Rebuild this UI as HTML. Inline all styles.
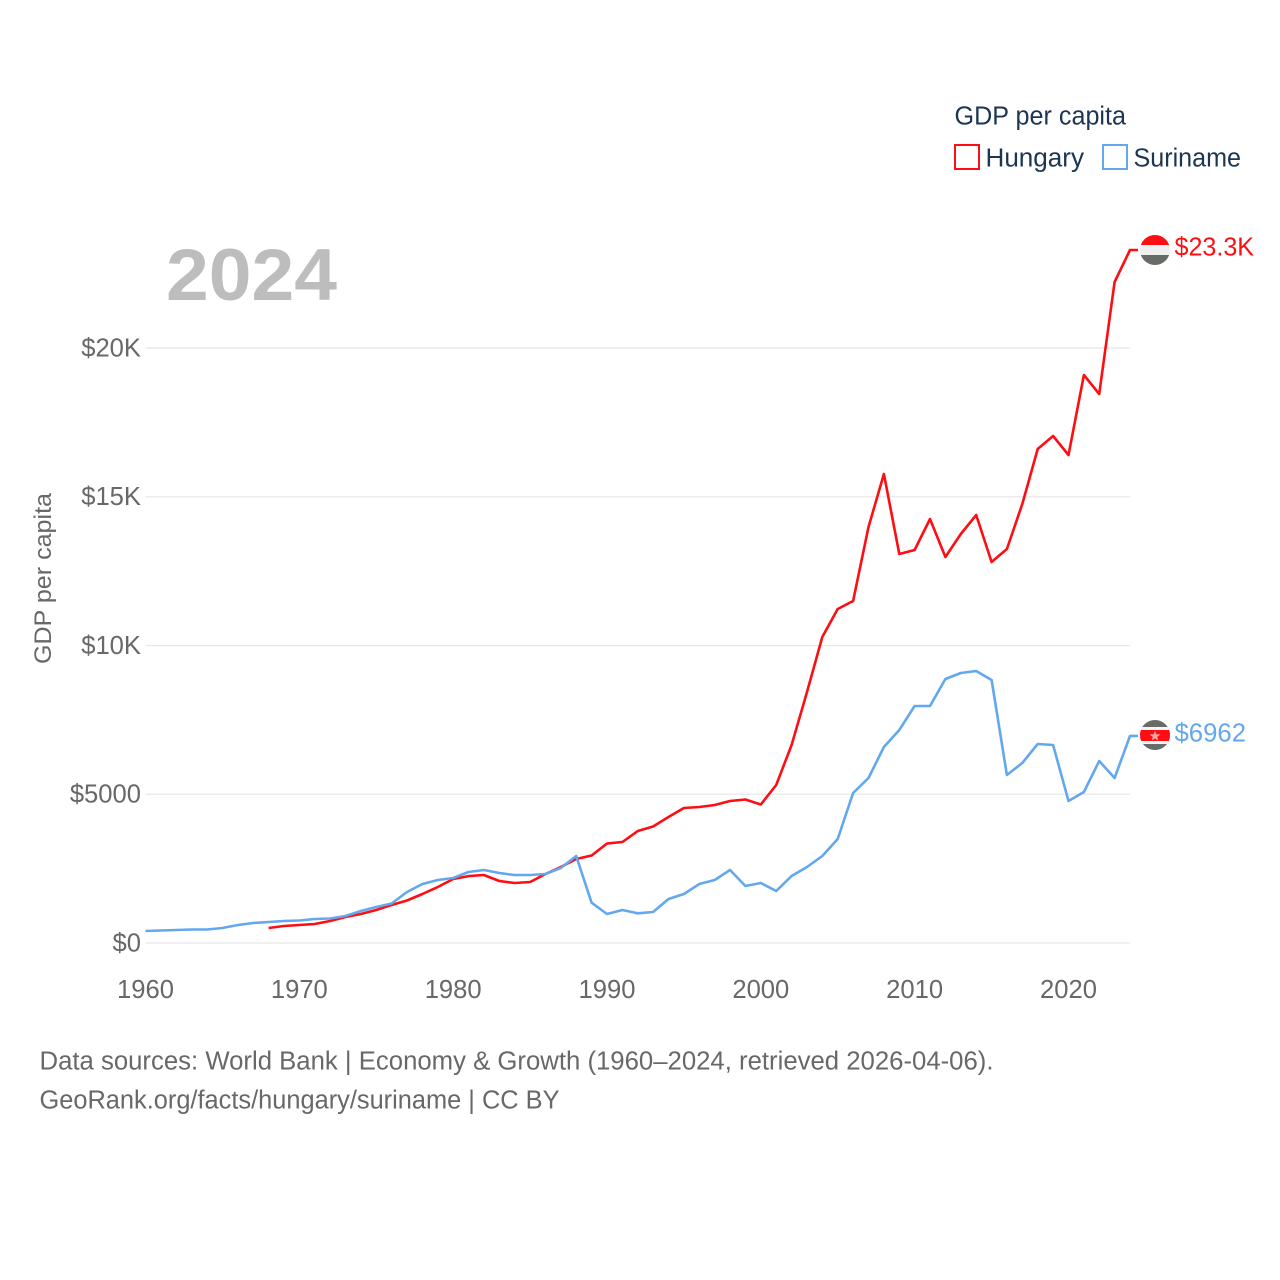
<!DOCTYPE html>
<html lang="en">
<head>
<meta charset="utf-8">
<title>GDP per capita: Hungary and Suriname</title>
<style>
  html, body { margin: 0; padding: 0; background: #fff; }
  svg { display: block; }
  text { font-family: "Liberation Sans", sans-serif; }
</style>
</head>
<body>
<svg id="chart" xmlns="http://www.w3.org/2000/svg" width="1280" height="1280" viewBox="0 0 1280 1280">
  <defs>
    <clipPath id="clip-hu"><circle cx="1155" cy="250" r="15"/></clipPath>
    <clipPath id="clip-sr"><circle cx="1155" cy="735" r="15"/></clipPath>
  </defs>
  <rect x="0" y="0" width="1280" height="1280" fill="#ffffff"/>

  <text x="954.5" y="124.5" font-size="25.5" fill="#1b3553" textLength="171.5" lengthAdjust="spacingAndGlyphs">GDP per capita</text>
  <g>
    <rect x="955" y="145" width="24" height="24" fill="none" stroke="#ff0d12" stroke-width="2"/>
    <text x="985.5" y="166.5" font-size="25.5" fill="#1b3553" textLength="98.5" lengthAdjust="spacingAndGlyphs">Hungary</text>
  </g>
  <g>
    <rect x="1103" y="145" width="24" height="24" fill="none" stroke="#63a8ef" stroke-width="2"/>
    <text x="1133.5" y="166.5" font-size="25.5" fill="#1b3553" textLength="107.5" lengthAdjust="spacingAndGlyphs">Suriname</text>
  </g>

  <text x="166" y="300" font-size="73" font-weight="700" fill="#bdbdbd" textLength="171" lengthAdjust="spacingAndGlyphs">2024</text>

  <text transform="translate(51,664) rotate(-90)" font-size="24.5" fill="#666966" textLength="171" lengthAdjust="spacingAndGlyphs">GDP per capita</text>

  <g id="grid"></g>
  <g id="y-ticks"></g>
  <g id="x-ticks"></g>
  <g id="series"></g>

  <g clip-path="url(#clip-hu)">
    <rect x="1140" y="235" width="30" height="10" fill="#ff0d12"/>
    <rect x="1140" y="245" width="30" height="10" fill="#f0f0f0"/>
    <rect x="1140" y="255" width="30" height="10" fill="#686c68"/>
  </g>
  <text id="label-hungary" x="1174.5" y="255.5" font-size="25.5" fill="#ff0d12" textLength="79.5" lengthAdjust="spacingAndGlyphs">$23.3K</text>

  <g clip-path="url(#clip-sr)">
    <rect x="1140" y="720" width="30" height="30" fill="#686c68"/>
    <rect x="1140" y="727" width="30" height="17" fill="#f4f4f4"/>
    <rect x="1140" y="730" width="30" height="11" fill="#ff0d12"/>
    <polygon points="1155,730.5 1156.4,734.4 1160.5,734.4 1157.2,736.9 1158.4,740.8 1155,738.4 1151.6,740.8 1152.8,736.9 1149.5,734.4 1153.6,734.4" fill="#f7a9a9"/>
  </g>
  <text id="label-suriname" x="1174.5" y="741.5" font-size="25.5" fill="#63a8ef" textLength="71.5" lengthAdjust="spacingAndGlyphs">$6962</text>

  <text x="39.5" y="1069.5" font-size="25.5" fill="#666966" textLength="954" lengthAdjust="spacingAndGlyphs">Data sources: World Bank | Economy &amp; Growth (1960–2024, retrieved 2026-04-06).</text>
  <text x="39.5" y="1108.5" font-size="25.5" fill="#666966" textLength="520" lengthAdjust="spacingAndGlyphs">GeoRank.org/facts/hungary/suriname | CC BY</text>
</svg>
<script>
const yTickValues = [0, 5000, 10000, 15000, 20000];
const yTickLabels = ["$0", "$5000", "$10K", "$15K", "$20K"];
const xTickValues = [1960, 1970, 1980, 1990, 2000, 2010, 2020];
const xTickLabels = ["1960", "1970", "1980", "1990", "2000", "2010", "2020"];
const hungaryStartYear = 1968;
const hungaryValues = [504, 571, 605, 640, 740, 874, 975, 1109, 1277, 1430, 1647, 1882, 2151, 2250, 2285, 2084, 2017, 2050, 2320, 2555, 2824, 2940, 3345, 3395, 3765, 3915, 4235, 4538, 4571, 4640, 4773, 4824, 4655, 5310, 6655, 8437, 10285, 11227, 11496, 13983, 15765, 13075, 13210, 14252, 12975, 13748, 14387, 12807, 13244, 14756, 16605, 17042, 16403, 19092, 18454, 22218, 23294];
const surinameStartYear = 1960;
const surinameValues = [403, 420, 437, 454, 454, 504, 605, 672, 706, 740, 756, 807, 824, 908, 1076, 1210, 1328, 1714, 1983, 2118, 2185, 2387, 2454, 2353, 2286, 2286, 2320, 2521, 2924, 1355, 975, 1109, 998, 1042, 1479, 1647, 1983, 2118, 2454, 1916, 2017, 1748, 2252, 2555, 2924, 3496, 5042, 5546, 6588, 7160, 7966, 7966, 8874, 9076, 9143, 8840, 5647, 6050, 6689, 6655, 4773, 5076, 6118, 5546, 6962];

const NS = "http://www.w3.org/2000/svg";
function xScale(year) { return 145.5 + (year - 1960) * (1130 - 145.5) / 64; }
function yScale(value) { return 943 - value * (943 - 348) / 20000; }

function makeText(parent, x, y, anchor, content) {
  const t = document.createElementNS(NS, "text");
  t.setAttribute("x", x);
  t.setAttribute("y", y);
  t.setAttribute("text-anchor", anchor);
  t.setAttribute("font-size", "25.6");
  t.setAttribute("fill", "#666966");
  t.textContent = content;
  parent.appendChild(t);
  return t;
}

const gridGroup = document.getElementById("grid");
const yTickGroup = document.getElementById("y-ticks");
yTickValues.forEach(function (v, i) {
  const line = document.createElementNS(NS, "line");
  line.setAttribute("x1", xScale(1960));
  line.setAttribute("x2", xScale(2024));
  line.setAttribute("y1", yScale(v));
  line.setAttribute("y2", yScale(v));
  line.setAttribute("stroke", "#e6e8ea");
  line.setAttribute("stroke-width", "1.3");
  
  
  gridGroup.appendChild(line);
  const label = makeText(yTickGroup, 141, yScale(v) + 8.4, "end", yTickLabels[i]);
  
  
});

const xTickGroup = document.getElementById("x-ticks");
xTickValues.forEach(function (v, i) {
  const label = makeText(xTickGroup, xScale(v), 998, "middle", xTickLabels[i]);
  
  
});

function drawSeries(values, startYear, color) {
  const pts = values.map(function (v, i) {
    return xScale(startYear + i).toFixed(1) + "," + yScale(v).toFixed(1);
  });
  const lastY = yScale(values[values.length - 1]).toFixed(1);
  pts.push("1138," + lastY);
  const line = document.createElementNS(NS, "polyline");
  line.setAttribute("points", pts.join(" "));
  line.setAttribute("fill", "none");
  line.setAttribute("stroke", color);
  line.setAttribute("stroke-width", "2.6");
  line.setAttribute("stroke-linejoin", "round");
  return line;
}

const seriesGroup = document.getElementById("series");
const hungaryLine = drawSeries(hungaryValues, hungaryStartYear, "#ff0d12");


seriesGroup.appendChild(hungaryLine);
const surinameLine = drawSeries(surinameValues, surinameStartYear, "#63a8ef");


seriesGroup.appendChild(surinameLine);
</script>
</body>
</html>
